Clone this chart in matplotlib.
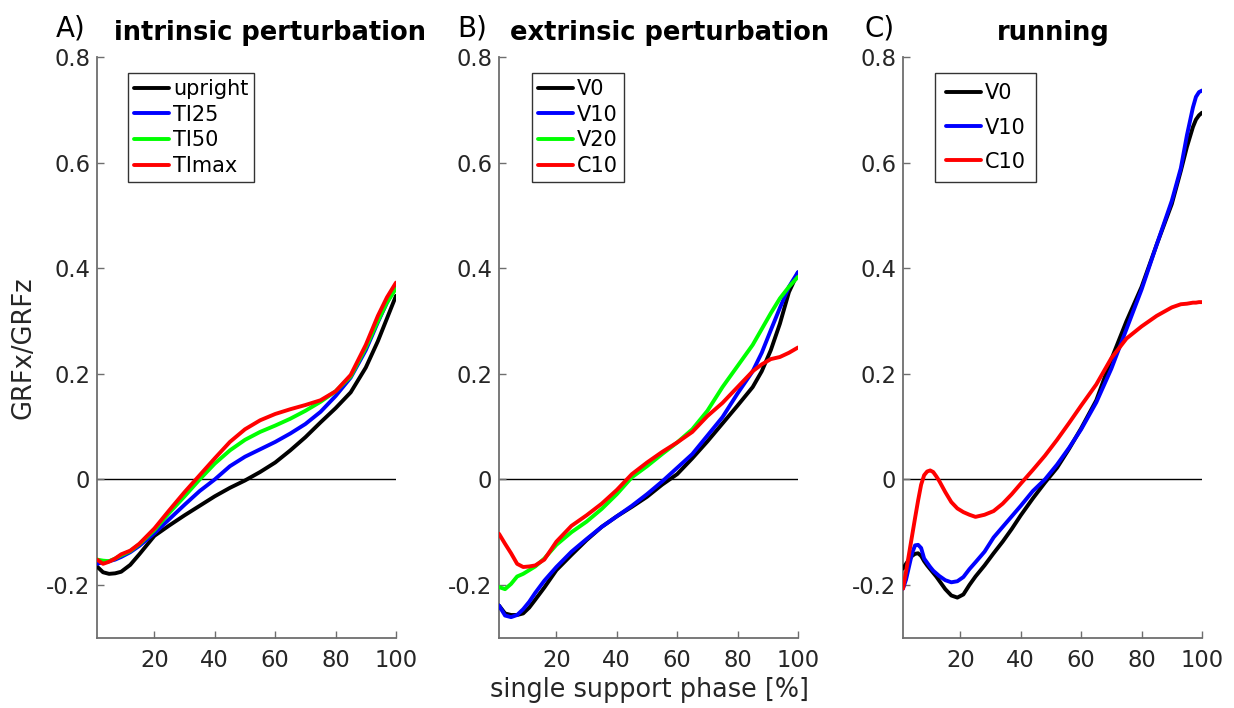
import matplotlib
matplotlib.use("Agg")
import matplotlib.pyplot as plt

plt.rcParams['font.family'] = ['DejaVu Sans']

# ---------------- data ----------------
# A) intrinsic perturbation
x_a = [1, 3, 5, 7, 9, 12, 15, 20, 25, 30, 35, 40, 45, 50, 55, 60, 65, 70, 75,
       80, 85, 90, 94, 97, 100]
upright = [-0.165, -0.176, -0.179, -0.178, -0.175, -0.162, -0.142, -0.107, -0.087,
           -0.068, -0.050, -0.032, -0.016, -0.002, 0.014, 0.032, 0.055, 0.080,
           0.108, 0.135, 0.165, 0.212, 0.262, 0.305, 0.348]
ti25 = [-0.160, -0.157, -0.155, -0.152, -0.147, -0.138, -0.126, -0.102, -0.075,
        -0.048, -0.022, 0.000, 0.025, 0.043, 0.057, 0.071, 0.087, 0.105, 0.128,
        0.158, 0.193, 0.245, 0.298, 0.335, 0.365]
ti50 = [-0.152, -0.154, -0.155, -0.150, -0.144, -0.136, -0.123, -0.096, -0.063,
        -0.032, 0.000, 0.030, 0.055, 0.075, 0.090, 0.102, 0.115, 0.130, 0.147,
        0.167, 0.195, 0.250, 0.300, 0.335, 0.362]
timax = [-0.152, -0.160, -0.156, -0.150, -0.142, -0.135, -0.122, -0.093, -0.058,
         -0.024, 0.008, 0.040, 0.071, 0.095, 0.112, 0.124, 0.133, 0.141, 0.150,
         0.167, 0.198, 0.255, 0.310, 0.345, 0.373]

# B) extrinsic perturbation
x_b = [1, 3, 5, 7, 9, 11, 13, 16, 20, 25, 30, 35, 40, 45, 50, 55, 60, 65, 70,
       75, 80, 85, 88, 91, 94, 97, 100]
v0_b = [-0.239, -0.254, -0.257, -0.257, -0.254, -0.243, -0.228, -0.205, -0.172,
        -0.143, -0.115, -0.090, -0.070, -0.052, -0.033, -0.010, 0.010, 0.040,
        0.072, 0.106, 0.140, 0.175, 0.205, 0.245, 0.295, 0.355, 0.392]
v10_b = [-0.239, -0.258, -0.261, -0.257, -0.246, -0.232, -0.215, -0.192, -0.166,
         -0.137, -0.113, -0.090, -0.070, -0.050, -0.028, -0.004, 0.022, 0.048,
         0.083, 0.118, 0.163, 0.205, 0.240, 0.283, 0.325, 0.365, 0.393]
v20_b = [-0.204, -0.208, -0.198, -0.184, -0.179, -0.172, -0.165, -0.150, -0.124,
         -0.100, -0.080, -0.056, -0.028, 0.004, 0.025, 0.048, 0.070, 0.095,
         0.130, 0.175, 0.215, 0.255, 0.285, 0.315, 0.343, 0.365, 0.384]
c10_b = [-0.103, -0.122, -0.140, -0.160, -0.166, -0.165, -0.163, -0.152, -0.118,
         -0.088, -0.068, -0.046, -0.020, 0.010, 0.032, 0.052, 0.070, 0.090,
         0.120, 0.145, 0.175, 0.205, 0.218, 0.228, 0.232, 0.240, 0.250]

# C) running
x_c = [1, 2, 3, 4, 5, 6, 7, 8, 9, 10, 11, 12, 13, 15, 17, 19, 21, 23, 25, 28,
       31, 34, 37, 40, 44, 48, 52, 56, 60, 65, 70, 75, 80, 85, 90, 93, 95, 97,
       98, 99, 100]
v0_c = [-0.169, -0.160, -0.152, -0.145, -0.141, -0.140, -0.145, -0.155, -0.163,
        -0.170, -0.177, -0.184, -0.192, -0.208, -0.220, -0.224, -0.218, -0.200,
        -0.184, -0.163, -0.140, -0.118, -0.094, -0.068, -0.036, -0.006, 0.022,
        0.058, 0.097, 0.150, 0.228, 0.300, 0.365, 0.445, 0.522, 0.585, 0.630,
        0.668, 0.682, 0.690, 0.695]
v10_c = [-0.207, -0.190, -0.165, -0.140, -0.125, -0.124, -0.130, -0.150, -0.158,
         -0.166, -0.173, -0.178, -0.183, -0.191, -0.195, -0.193, -0.185, -0.170,
         -0.157, -0.137, -0.110, -0.090, -0.070, -0.050, -0.022, 0.000, 0.028,
         0.060, 0.095, 0.146, 0.210, 0.285, 0.360, 0.445, 0.528, 0.590, 0.652,
         0.705, 0.725, 0.734, 0.737]
c10_c = [-0.207, -0.175, -0.141, -0.107, -0.073, -0.040, -0.010, 0.008, 0.015,
         0.017, 0.014, 0.006, -0.003, -0.024, -0.043, -0.055, -0.062, -0.067,
         -0.071, -0.067, -0.060, -0.046, -0.028, -0.008, 0.018, 0.045, 0.075,
         0.107, 0.140, 0.180, 0.230, 0.267, 0.290, 0.310, 0.326, 0.332, 0.333,
         0.335, 0.335, 0.336, 0.336]

panels = [
    dict(letter='A)', title='intrinsic perturbation', x=x_a,
         series=[('upright', upright, 'k'), ('TI25', ti25, '#0000ff'),
                 ('TI50', ti50, '#00ff00'), ('TImax', timax, '#ff0000')],
         left=97, title_cx=270, letter_x=56, leg_x=0.104, leg_space=0.28,
         leg_pad=0.28),
    dict(letter='B)', title='extrinsic perturbation', x=x_b,
         series=[('V0', v0_b, 'k'), ('V10', v10_b, '#0000ff'),
                 ('V20', v20_b, '#00ff00'), ('C10', c10_b, '#ff0000')],
         left=499, title_cx=670, letter_x=457, leg_x=0.112, leg_space=0.28,
         leg_pad=0.28),
    dict(letter='C)', title='running', x=x_c,
         series=[('V0', v0_c, 'k'), ('V10', v10_c, '#0000ff'),
                 ('C10', c10_c, '#ff0000')],
         left=903, title_cx=1053, letter_x=864, leg_x=0.108, leg_space=0.68,
         leg_pad=0.5),
]

W, H = 1234, 708
fig = plt.figure(figsize=(W / 100, H / 100), dpi=100)

ax_w = 299
ax_top, ax_bot = 57.3, 637.7
spine_col = '#6e6e6e'
text_col = '#262626'

for p in panels:
    ax = fig.add_axes([p['left'] / W, 1 - ax_bot / H, ax_w / W, (ax_bot - ax_top) / H])
    ax.axhline(0, color='k', lw=1.0, zorder=1)
    handles = []
    for name, vals, col in p['series']:
        h, = ax.plot(p['x'], vals, color=col, lw=2.8, label=name, zorder=3,
                     solid_joinstyle='round', solid_capstyle='round')
        handles.append(h)
    ax.set_xlim(1, 100)
    ax.set_ylim(-0.3, 0.8)
    ax.set_xticks([20, 40, 60, 80, 100])
    ax.set_yticks([-0.2, 0, 0.2, 0.4, 0.6, 0.8])
    ax.set_yticklabels(['-0.2', '0', '0.2', '0.4', '0.6', '0.8'])
    for s in ['top', 'right']:
        ax.spines[s].set_visible(False)
    for s in ['left', 'bottom']:
        ax.spines[s].set_color(spine_col)
        ax.spines[s].set_linewidth(1.3)
    ax.tick_params(direction='in', length=5, width=1, colors=spine_col,
                   labelcolor=text_col, labelsize=16.3, pad=5)
    ax.tick_params(axis='x', pad=8)

    leg = ax.legend(handles=handles, loc='upper left',
                    bbox_to_anchor=(p['leg_x'], 0.973), borderaxespad=0,
                    fontsize=15, handlelength=1.68, handletextpad=0.19,
                    borderpad=p['leg_pad'], labelspacing=p['leg_space'],
                    fancybox=False, framealpha=1, edgecolor='#333333')
    leg.get_frame().set_linewidth(1.0)
    for t in leg.get_texts():
        t.set_color('k')

    fig.text(p['title_cx'] / W, 1 - 40 / H, p['title'], ha='center',
             va='baseline', fontsize=18.5, fontweight='bold', color='k')
    fig.text(p['letter_x'] / W, 1 - 36 / H, p['letter'], ha='left',
             va='baseline', fontsize=20, color='k')

fig.text(23 / W, 1 - 348 / H, 'GRFx/GRFz', rotation=90, ha='center',
         va='center', fontsize=18.5, color=text_col)
fig.text(649 / W, 1 - 690 / H, 'single support phase [%]', ha='center',
         va='center', fontsize=18.4, color=text_col)

fig.savefig('out.png', dpi=100, facecolor='white')
